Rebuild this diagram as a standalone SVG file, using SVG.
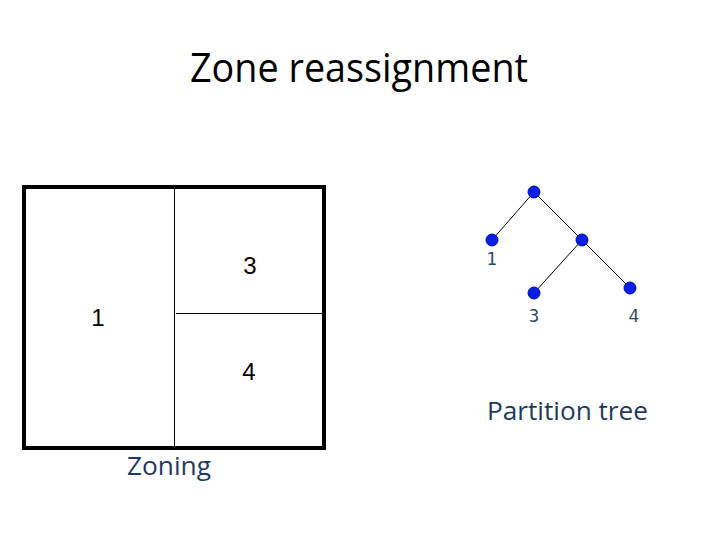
<svg xmlns="http://www.w3.org/2000/svg" width="720" height="540" viewBox="0 0 720 540">
<style>
.title{font-family:"Open Sans","Liberation Sans",sans-serif;font-size:40px;fill:#000}
.zone{font-family:"Liberation Sans","DejaVu Sans",sans-serif;font-size:24px;fill:#000;text-anchor:middle}
.cap{font-family:"Open Sans","Liberation Sans",sans-serif;font-size:25px;fill:#1F3A60}
.leaf{font-family:"DejaVu Sans","Liberation Sans",sans-serif;font-size:17px;fill:#2E4A6B;text-anchor:middle}
.node{fill:#0A1EE6;stroke:#0010A0;stroke-width:1}
.edge{stroke:#000;stroke-width:1;fill:none}
</style>
<rect width="720" height="540" fill="#fff"/>
<text class="title" x="190" y="82" textLength="338" lengthAdjust="spacingAndGlyphs">Zone reassignment</text>
<g id="zoning">
<rect x="24" y="187" width="300" height="261" fill="none" stroke="#000" stroke-width="4"/>
<line x1="174.5" y1="187" x2="174.5" y2="448" stroke="#000" stroke-width="1"/>
<line x1="176" y1="313.5" x2="322" y2="313.5" stroke="#000" stroke-width="1"/>
<text class="zone" x="250" y="274">3</text>
<text class="zone" x="98" y="326">1</text>
<text class="zone" x="249" y="380">4</text>
<text class="cap" x="127" y="475" textLength="84" lengthAdjust="spacingAndGlyphs">Zoning</text>
</g>
<g id="connectors">
<line class="edge" x1="534" y1="192" x2="492" y2="240"/>
<line class="edge" x1="534" y1="192" x2="582" y2="240"/>
<line class="edge" x1="582" y1="240" x2="534" y2="293"/>
<line class="edge" x1="582" y1="240" x2="630" y2="288"/>
</g>
<g id="root"><circle class="node" cx="534" cy="192" r="6"/></g>
<g id="n1"><circle class="node" cx="492" cy="240" r="6"/><text class="leaf" x="492" y="265">1</text></g>
<g id="inner"><circle class="node" cx="582" cy="240" r="6"/></g>
<g id="n3"><circle class="node" cx="534" cy="293" r="6"/><text class="leaf" x="534" y="322">3</text></g>
<g id="n4"><circle class="node" cx="630" cy="288" r="6"/><text class="leaf" x="634" y="322">4</text></g>
<text class="cap" x="487" y="420" textLength="161" lengthAdjust="spacingAndGlyphs">Partition tree</text>
</svg>
